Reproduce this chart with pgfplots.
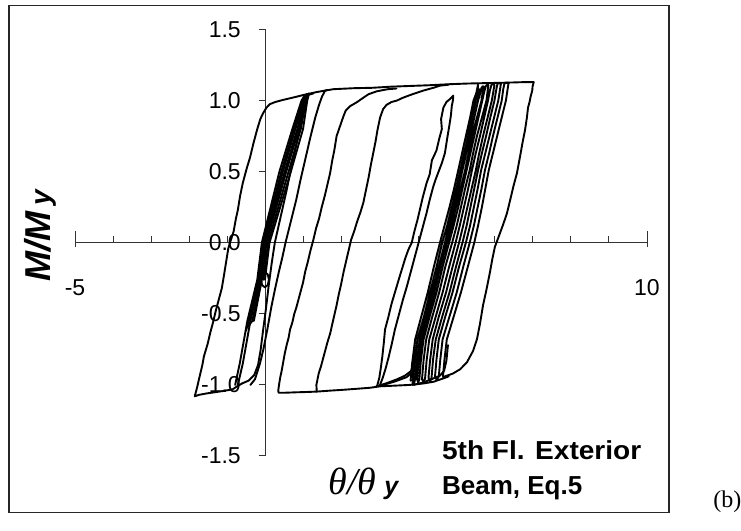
\documentclass[border=0pt]{standalone}
\usepackage{fontspec}
\setmainfont{Liberation Sans}
\newfontfamily\seriffont{Liberation Serif}
\usepackage{graphicx}
\usepackage{pgfplots}
\pgfplotsset{compat=1.18}
\pgfplotsset{hyst/.style={black, line width=0.95pt, line join=round, line cap=round, mark=none}}

\begin{document}
\begin{tikzpicture}
\useasboundingbox (0,0) rectangle (370.5pt,265.5pt);
% chart border
\draw[black!85, line width=0.65pt] (4.5pt,9.25pt) rectangle (334.5pt,262.65pt);
\begin{axis}[
  at={(37.5pt,37.5pt)}, anchor=south west,
  width=286pt, height=213.25pt, scale only axis,
  xmin=-5, xmax=10, ymin=-1.5, ymax=1.5,
  axis x line=middle, axis y line=middle,
  axis line style={-, black!80, line width=0.5pt},
  every inner x axis line/.append style={-},
  every inner y axis line/.append style={-},
  hide obscured x ticks=false, hide obscured y ticks=false,
  xtick={-4,-3,...,9},
  xticklabels={},
  extra x ticks={-5,10}, extra x tick labels={-5,10},
  extra x tick style={major tick length=8pt, x tick style={yshift=0pt}},
  ytick={-1.5,-1,-0.5,0,0.5,1,1.5},
  yticklabels={-1.5,-1.0,-0.5,0.0,0.5,1.0,1.5},
  tick align=center,
  major tick length=3.5pt,
  tick style={black!80, line width=0.5pt},
  x tick style={yshift=1.75pt},
  y tick style={xshift=-1.75pt},
  xticklabel style={font=\fontsize{11.5}{13}\selectfont, anchor=center, inner sep=0pt, yshift=-18.5pt},
  yticklabel style={font=\fontsize{11.5}{13}\selectfont, anchor=east, inner sep=0pt, xshift=-10.5pt},
]
% outer envelope: left loop, upper plateau and right edge
\addplot[hyst] coordinates {
(-0.62,-0.99) (-0.75,-1.01) (-0.86,-1.03) (-1.05,-1.04) (-1.29,-1.05) (-1.55,-1.06) (-1.75,-1.07) (-1.86,-1.08)
(-1.83,-1.05) (-1.80,-1.02) (-1.74,-0.95) (-1.66,-0.86) (-1.62,-0.80) (-1.52,-0.71) (-1.45,-0.63) (-1.38,-0.56)
(-1.30,-0.47) (-1.22,-0.39) (-1.15,-0.32) (-1.10,-0.24) (-1.04,-0.14) (-0.98,-0.04) (-0.90,0.03) (-0.84,0.08)
(-0.78,0.17) (-0.73,0.23) (-0.67,0.33) (-0.60,0.42) (-0.50,0.52) (-0.41,0.60) (-0.32,0.70) (-0.22,0.80)
(-0.14,0.87) (-0.07,0.91) (0.02,0.95) (0.11,0.975) (0.25,0.99) (0.46,1.005) (0.70,1.02) (1.00,1.04)
(1.34,1.06) (1.77,1.08) (2.30,1.087) (2.80,1.09) (3.30,1.098) (3.80,1.103) (4.30,1.108) (4.80,1.115)
(5.30,1.12) (5.80,1.123) (6.30,1.126) (6.80,1.13) (7.03,1.13) (7.00,1.10) (6.99,1.07) (6.95,1.03)
(6.92,0.99) (6.88,0.95) (6.85,0.88) (6.80,0.79) (6.74,0.71) (6.68,0.62) (6.59,0.49) (6.50,0.40)
(6.42,0.31) (6.33,0.21) (6.23,0.13) (6.12,0.05) (6.01,-0.03) (5.94,-0.12) (5.88,-0.21) (5.79,-0.33)
(5.70,-0.44) (5.62,-0.57) (5.54,-0.68) (5.44,-0.76) (5.28,-0.84) (5.10,-0.89) (4.91,-0.92) (4.65,-0.945)
};
% second loop: unloading branch and lower plateau
\addplot[hyst] coordinates {
(3.43,1.085) (3.20,1.08) (2.91,1.065) (2.70,1.045) (2.56,1.02) (2.40,0.99) (2.21,0.96) (2.10,0.93)
(2.04,0.89) (1.95,0.82) (1.86,0.75) (1.80,0.65) (1.74,0.57) (1.69,0.49) (1.62,0.41) (1.55,0.33)
(1.47,0.25) (1.40,0.17) (1.32,0.10) (1.25,0.02) (1.17,-0.06) (1.10,-0.14) (1.04,-0.20) (0.98,-0.28)
(0.92,-0.34) (0.86,-0.40) (0.80,-0.46) (0.75,-0.50) (0.70,-0.56) (0.64,-0.61) (0.60,-0.67) (0.55,-0.72)
(0.50,-0.78) (0.46,-0.84) (0.42,-0.90) (0.38,-0.95) (0.35,-1.00) (0.33,-1.04) (0.34,-1.055) (0.50,-1.055)
(0.80,-1.052) (1.05,-1.05) (1.34,-1.047) (1.70,-1.04) (2.00,-1.035) (2.40,-1.027) (2.74,-1.02) (3.00,-1.01)
(3.40,-1.005) (3.78,-1.00) (4.13,-0.99) (4.40,-0.978) (4.65,-0.955) (4.80,-0.94)
};
% reloading branch from the lower plateau
\addplot[hyst] coordinates {
(1.34,-1.047) (1.33,-1.00) (1.36,-0.96) (1.39,-0.92) (1.45,-0.87) (1.50,-0.82) (1.56,-0.76) (1.62,-0.70)
(1.69,-0.64) (1.74,-0.58) (1.80,-0.51) (1.86,-0.44) (1.92,-0.36) (1.98,-0.29) (2.04,-0.21) (2.10,-0.14)
(2.17,-0.06) (2.24,0.02) (2.32,0.08) (2.40,0.15) (2.48,0.21) (2.56,0.28) (2.63,0.37) (2.70,0.46)
(2.76,0.55) (2.82,0.63) (2.88,0.71) (2.93,0.79) (3.00,0.88) (3.08,0.94) (3.17,0.97) (3.30,0.99)
(3.44,1.00) (3.60,1.02) (3.80,1.04) (4.13,1.07) (4.40,1.09) (4.57,1.105) (4.80,1.112)
};
% narrow partial cycle
\addplot[hyst] coordinates {
(2.92,-1.01) (2.98,-0.95) (3.02,-0.88) (3.06,-0.80) (3.10,-0.70) (3.13,-0.61) (3.22,-0.52) (3.30,-0.43)
(3.40,-0.34) (3.50,-0.25) (3.58,-0.18) (3.66,-0.11) (3.74,-0.05) (3.83,0.00) (3.90,0.08) (3.98,0.16)
(4.05,0.24) (4.12,0.32) (4.22,0.42) (4.30,0.48) (4.36,0.58) (4.48,0.65) (4.55,0.73) (4.62,0.80)
(4.60,0.87) (4.66,0.95) (4.74,0.99) (4.83,1.01) (4.92,1.035) (4.91,1.00) (4.88,0.96) (4.86,0.90)
(4.82,0.83) (4.77,0.75) (4.70,0.63) (4.62,0.56) (4.52,0.49) (4.45,0.44) (4.39,0.39) (4.30,0.30)
(4.22,0.21) (4.13,0.12) (4.05,0.04) (4.00,-0.01) (3.90,-0.11) (3.80,-0.21) (3.70,-0.31) (3.60,-0.40)
(3.50,-0.50) (3.39,-0.61) (3.30,-0.72) (3.22,-0.81) (3.14,-0.89) (3.07,-0.95) (3.00,-1.00)
};
% rounded reloading toes
\addplot[hyst] coordinates {(2.90,-1.01) (3.15,-0.99) (3.45,-0.96) (3.65,-0.935) (3.80,-0.905) (3.90,-0.86) (3.94,-0.80) (3.97,-0.72)};
\addplot[hyst] coordinates {(3.02,-1.005) (3.40,-0.975) (3.70,-0.945) (3.88,-0.90) (3.98,-0.84) (4.04,-0.76)};
\addplot[hyst] coordinates {(3.88,-1.00) (4.10,-0.985) (4.35,-0.96) (4.57,-0.935) (4.68,-0.90) (4.74,-0.83) (4.78,-0.72)};
\addplot[hyst] coordinates {(3.85,-1.00) (3.85,-0.93) (3.90,-0.88)};
% dense group of elastic cycles near the maximum drift, traced as one record
\addplot[hyst] coordinates {
(3.80,-0.97) (3.84,-0.85) (3.92,-0.68) (4.08,-0.52) (4.25,-0.35) (4.41,-0.17) (4.57,0.00) (4.70,0.13)
(4.82,0.25) (4.94,0.38) (5.05,0.51) (5.15,0.63) (5.25,0.75) (5.36,0.88) (5.45,1.00) (5.52,1.05)
(5.57,1.112) (5.56,1.05) (5.60,1.02) (5.63,1.06) (5.61,1.08) (5.51,1.00) (5.41,0.88) (5.31,0.75)
(5.21,0.63) (5.11,0.51) (5.00,0.38) (4.88,0.25) (4.76,0.12) (4.63,0.00) (4.48,-0.17) (4.31,-0.35)
(4.15,-0.52) (3.98,-0.68) (3.90,-0.84) (3.86,-0.97) (3.89,-0.99) (3.92,-0.96) (3.96,-0.84) (4.04,-0.68)
(4.21,-0.51) (4.37,-0.35) (4.54,-0.17) (4.70,0.00) (4.82,0.13) (4.94,0.25) (5.06,0.39) (5.16,0.51)
(5.26,0.63) (5.36,0.75) (5.47,0.88) (5.57,1.00) (5.63,1.06) (5.66,1.09) (5.69,1.10) (5.71,1.10)
(5.66,1.00) (5.53,0.87) (5.41,0.75) (5.32,0.63) (5.23,0.51) (5.11,0.38) (4.99,0.25) (4.87,0.12)
(4.75,0.00) (4.58,-0.17) (4.42,-0.35) (4.25,-0.52) (4.09,-0.68) (4.01,-0.84) (3.97,-0.96) (4.00,-0.985)
(4.03,-0.96) (4.07,-0.83) (4.14,-0.68) (4.31,-0.51) (4.48,-0.35) (4.64,-0.17) (4.81,0.00) (4.93,0.12)
(5.05,0.25) (5.16,0.38) (5.27,0.51) (5.37,0.63) (5.47,0.75) (5.58,0.88) (5.68,1.00) (5.73,1.06)
(5.77,1.10) (5.80,1.11) (5.84,1.11) (5.79,1.00) (5.66,0.87) (5.54,0.75) (5.44,0.63) (5.35,0.51)
(5.23,0.38) (5.12,0.25) (5.01,0.12) (4.89,0.00) (4.71,-0.17) (4.55,-0.35) (4.37,-0.52) (4.21,-0.68)
(4.14,-0.83) (4.10,-0.96) (4.14,-0.98) (4.18,-0.955) (4.22,-0.83) (4.29,-0.68) (4.47,-0.51) (4.64,-0.35)
(4.81,-0.17) (4.98,0.00) (5.09,0.12) (5.20,0.25) (5.31,0.38) (5.41,0.51) (5.51,0.63) (5.62,0.75)
(5.73,0.88) (5.83,1.00) (5.88,1.07) (5.92,1.11) (5.96,1.115) (6.00,1.11) (5.93,1.00) (5.81,0.87)
(5.70,0.75) (5.60,0.63) (5.51,0.51) (5.40,0.38) (5.29,0.25) (5.18,0.12) (5.07,0.00) (4.90,-0.17)
(4.73,-0.35) (4.54,-0.52) (4.38,-0.68) (4.31,-0.83) (4.27,-0.95) (4.31,-0.975) (4.35,-0.95) (4.39,-0.82)
(4.46,-0.68) (4.64,-0.51) (4.82,-0.35) (4.99,-0.17) (5.16,0.00) (5.27,0.12) (5.37,0.25) (5.47,0.38)
(5.57,0.51) (5.67,0.63) (5.78,0.75) (5.89,0.88) (6.00,1.00) (6.05,1.08) (6.08,1.12) (6.12,1.12)
(6.17,1.12) (6.10,1.00) (5.98,0.87) (5.87,0.75) (5.76,0.63) (5.65,0.51) (5.56,0.38) (5.46,0.25)
(5.36,0.12) (5.25,0.00) (5.07,-0.17) (4.90,-0.35) (4.71,-0.52) (4.54,-0.68) (4.48,-0.82) (4.44,-0.945)
(4.49,-0.965) (4.54,-0.94) (4.58,-0.82) (4.64,-0.68) (4.83,-0.51) (5.01,-0.35) (5.18,-0.17) (5.35,0.00)
(5.46,0.12) (5.56,0.25) (5.66,0.38) (5.75,0.51) (5.86,0.63) (5.96,0.75) (6.08,0.88) (6.19,1.00)
(6.23,1.08) (6.26,1.12) (6.31,1.125) (6.37,1.125) (6.30,1.00) (6.18,0.87) (6.07,0.75) (5.96,0.63)
(5.85,0.51) (5.76,0.38) (5.67,0.25) (5.57,0.12) (5.47,0.00) (5.30,-0.17) (5.12,-0.35) (4.93,-0.52)
(4.75,-0.68) (4.69,-0.82) (4.65,-0.94)
};
% group of elastic cycles near zero drift
\addplot[hyst] coordinates {(-0.80,-1.00) (-0.68,-0.85) (-0.48,-0.55) (-0.22,-0.26) (-0.10,0.00) (0.13,0.25) (0.36,0.50) (0.70,0.80) (0.94,1.00) (1.02,1.035)};
\addplot[hyst] coordinates {(-0.52,-0.62) (-0.44,-0.55) (-0.19,-0.26) (-0.07,0.00) (0.17,0.25) (0.41,0.50) (0.74,0.80) (0.96,1.00) (1.04,1.04)};
\addplot[hyst] coordinates {(-0.73,-1.00) (-0.60,-0.85) (-0.40,-0.55) (-0.16,-0.26) (-0.04,0.00) (0.21,0.25) (0.45,0.50) (0.78,0.80) (0.99,1.00) (1.06,1.04)};
\addplot[hyst] coordinates {(-0.50,-0.60) (-0.35,-0.55) (-0.13,-0.26) (-0.01,0.00) (0.24,0.25) (0.50,0.50) (0.83,0.80) (1.01,1.00) (1.07,1.045)};
\addplot[hyst] coordinates {(-0.31,-0.55) (-0.10,-0.26) (0.02,0.00) (0.28,0.25) (0.54,0.50) (0.87,0.80) (1.03,1.00) (1.09,1.045)};
\addplot[hyst] coordinates {(-0.06,-0.26) (0.06,0.00) (0.33,0.25) (0.60,0.50) (0.92,0.80) (1.06,1.00) (1.12,1.05)};
\addplot[hyst] coordinates {(-0.02,-0.26) (0.10,0.00) (0.38,0.25) (0.66,0.50) (0.98,0.80) (1.09,1.00) (1.14,1.05)};
\addplot[hyst] coordinates {
(-0.62,-0.99) (-0.45,-0.97) (-0.30,-0.93) (-0.20,-0.86) (-0.13,-0.75) (-0.07,-0.62) (0.00,-0.48) (0.08,-0.30)
(0.16,-0.14) (0.24,0.00) (0.34,0.12) (0.45,0.25) (0.55,0.37) (0.65,0.50) (0.75,0.62) (0.85,0.75)
(0.93,0.85) (1.00,0.93) (1.06,0.99) (1.11,1.04) (1.25,1.05)};
\addplot[hyst] coordinates {
(-0.40,-1.00) (-0.28,-0.96) (-0.15,-0.85) (-0.06,-0.75) (0.05,-0.60) (0.15,-0.45) (0.25,-0.32) (0.35,-0.20)
(0.44,-0.10) (0.52,0.00) (0.66,0.15) (0.80,0.30) (0.92,0.45) (1.05,0.60) (1.17,0.74) (1.30,0.88)
(1.40,0.97) (1.48,1.03) (1.56,1.07) (1.62,1.075)};
% small inner cycle
\addplot[hyst] coordinates {(-0.02,-0.207) (0.054,-0.222) (0.085,-0.26) (0.054,-0.298) (-0.02,-0.313) (-0.094,-0.298) (-0.125,-0.26) (-0.094,-0.222) (-0.02,-0.207)};
\end{axis}
% axis titles and annotation
\node[rotate=90, anchor=base, inner sep=0pt] at (25pt,147.5pt)
  {\fontsize{18}{20}\selectfont\bfseries\itshape M/M\hspace{3pt}\fontsize{14}{16}\selectfont y};
\node[anchor=base west, inner sep=0pt] at (164pt,18pt)
  {{\seriffont\itshape\fontsize{19}{21}\selectfont θ/θ}\hspace{4pt}{\fontsize{12.5}{14}\selectfont\bfseries\itshape y}};
\node[anchor=base west, inner sep=0pt] at (220.85pt,35.5pt)
  {\fontsize{13}{15}\selectfont\bfseries\scalebox{1.08}[1]{5th Fl. Exterior}};
\node[anchor=base west, inner sep=0pt] at (220.85pt,18pt)
  {\fontsize{13}{15}\selectfont\bfseries Beam, Eq.5};
\node[anchor=base west, inner sep=0pt] at (356.5pt,11.5pt)
  {\seriffont\fontsize{12}{14}\selectfont (b)};
\end{tikzpicture}
\end{document}
